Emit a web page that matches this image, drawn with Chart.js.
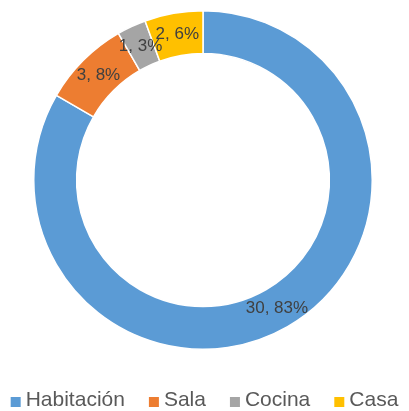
<!DOCTYPE html>
<html>
<head>
<meta charset="utf-8">
<script src="https://cdn.jsdelivr.net/npm/chart.js@4"></script>
<style>
  html, body { margin: 0; padding: 0; background: #fff; }
  #wrap { width: 409px; height: 411px; }
</style>
</head>
<body>
<div id="wrap"><canvas id="chart"></canvas></div>
<script>
// datos del gráfico
const categories = ['Habitación', 'Sala', 'Cocina', 'Casa'];
const values = [30, 3, 1, 2];
const colors = ['#5B9BD5', '#ED7D31', '#A5A5A5', '#FFC000'];

const total = values.reduce((a, b) => a + b, 0);
const FONT = '"Liberation Sans", Arial, sans-serif';

// etiquetas "valor, porcentaje" sobre cada segmento
const sliceLabels = {
  id: 'sliceLabels',
  afterDatasetsDraw(chart) {
    const ctx = chart.ctx;
    const meta = chart.getDatasetMeta(0);
    ctx.save();
    ctx.font = `17px ${FONT}`;
    ctx.fillStyle = '#404040';
    ctx.textAlign = 'center';
    ctx.textBaseline = 'middle';
    meta.data.forEach((arc, i) => {
      const p = arc.tooltipPosition();
      const pct = Math.round(values[i] / total * 100);
      ctx.fillText(`${values[i]}, ${pct}%`, p.x, p.y);
    });
    ctx.restore();
  }
};

// leyenda en una sola línea, estilo Excel
const bottomLegend = {
  id: 'bottomLegend',
  afterDraw(chart) {
    const ctx = chart.ctx;
    const box = 10, gapText = 5, gapItem = 24;
    ctx.save();
    ctx.font = `21px ${FONT}`;
    ctx.textBaseline = 'middle';
    const widths = categories.map(c => ctx.measureText(c).width);
    const totalW = widths.reduce((a, w) => a + box + gapText + w, 0) + gapItem * (categories.length - 1);
    let x = (chart.width - totalW) / 2;
    const y = 400;
    categories.forEach((c, i) => {
      ctx.fillStyle = colors[i];
      ctx.fillRect(x, y - box / 2 + 2, box, box);
      x += box + gapText;
      ctx.fillStyle = '#595959';
      ctx.fillText(c, x, y);
      x += widths[i] + gapItem;
    });
    ctx.restore();
  }
};

new Chart(document.getElementById('chart'), {
  type: 'doughnut',
  data: {
    labels: categories,
    datasets: [{
      data: values,
      backgroundColor: colors,
      borderColor: '#ffffff',
      borderWidth: 1.5
    }]
  },
  options: {
    responsive: true,
    maintainAspectRatio: false,
    animation: false,
    cutout: '74.7%',
    layout: { padding: { top: 10, bottom: 61, right: 3 } },
    plugins: {
      tooltip: { enabled: false },
      legend: { display: false }
    }
  },
  plugins: [sliceLabels, bottomLegend]
});
</script>
</body>
</html>
